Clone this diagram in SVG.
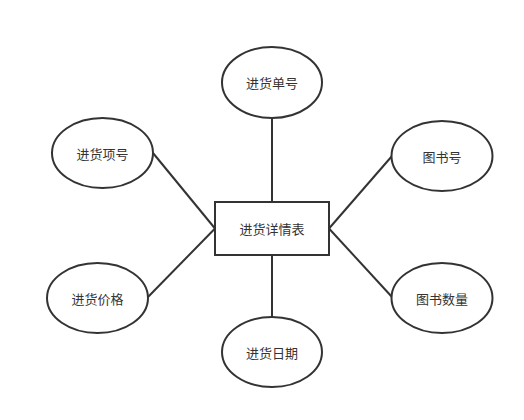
<svg xmlns="http://www.w3.org/2000/svg" width="524" height="420" viewBox="0 0 524 420">
<style>
.n{fill:#fff;stroke:#333;stroke-width:2}
.t{font-family:"Noto Sans CJK SC","Liberation Sans",sans-serif;font-size:13px;fill:#333;text-anchor:middle;dominant-baseline:central}
.c{stroke:#333;stroke-width:2;fill:none}
</style>
<rect width="524" height="420" fill="#fff"/>
<g id="connectors">
<line class="c" x1="272" y1="118" x2="272" y2="202"/>
<line class="c" x1="272" y1="255" x2="272" y2="317"/>
<line class="c" x1="153" y1="153" x2="215" y2="228.5"/>
<line class="c" x1="148" y1="297" x2="215" y2="228.5"/>
<line class="c" x1="392" y1="156" x2="329" y2="228.5"/>
<line class="c" x1="392" y1="297" x2="329" y2="228.5"/>
</g>
<g id="main"><rect class="n" x="215" y="202" width="114" height="53"/><text class="t" x="272" y="228.5">进货详情表</text></g>
<g id="a1"><ellipse class="n" cx="272" cy="82.5" rx="50" ry="35.5"/><text class="t" x="272" y="82.5">进货单号</text></g>
<g id="a2"><ellipse class="n" cx="102.5" cy="153" rx="50.5" ry="35"/><text class="t" x="102.5" y="153">进货项号</text></g>
<g id="a3"><ellipse class="n" cx="97.5" cy="298" rx="50.5" ry="35"/><text class="t" x="97.5" y="298">进货价格</text></g>
<g id="a4"><ellipse class="n" cx="442" cy="156" rx="50.5" ry="35"/><text class="t" x="442" y="156">图书号</text></g>
<g id="a5"><ellipse class="n" cx="442" cy="298" rx="50.5" ry="35"/><text class="t" x="442" y="298">图书数量</text></g>
<g id="a6"><ellipse class="n" cx="272" cy="352" rx="50" ry="35"/><text class="t" x="272" y="352">进货日期</text></g>
</svg>
